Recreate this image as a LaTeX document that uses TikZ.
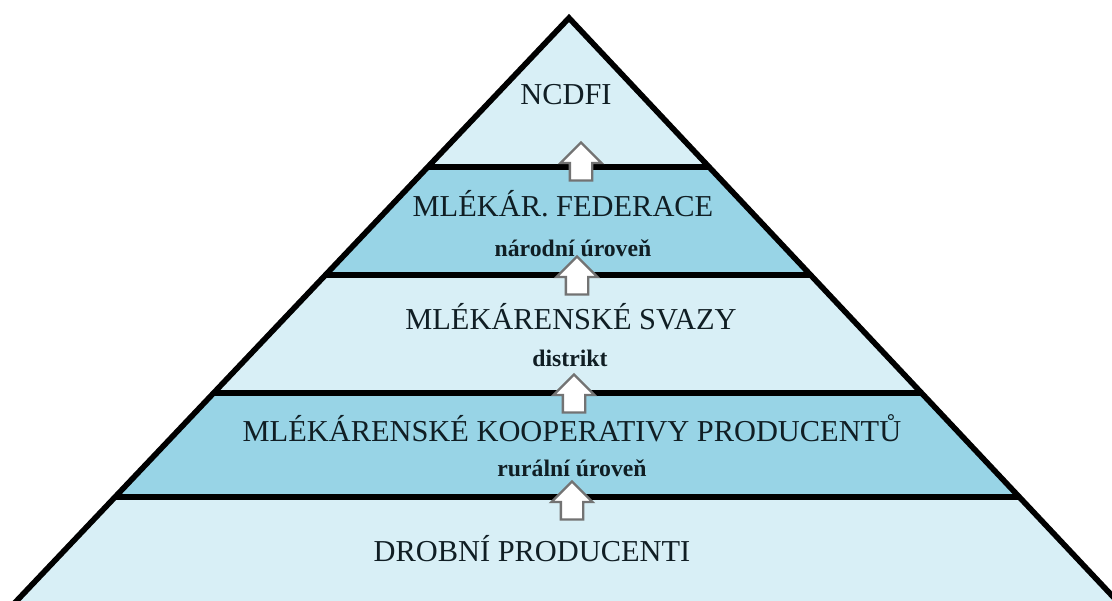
\documentclass[tikz,border=0pt]{standalone}
\usepackage{fontspec}
\setmainfont{Liberation Serif}
\usetikzlibrary{shapes.arrows}
\definecolor{palebg}{RGB}{216,239,246}
\definecolor{bandbg}{RGB}{152,212,230}
\definecolor{inkcol}{RGB}{16,30,36}
\tikzset{
	edge/.style={line width=3.2pt, black},
	level/.style={text=inkcol, font=\fontsize{17.3}{20}\selectfont, inner sep=0pt},
	sublevel/.style={text=inkcol, font=\bfseries\fontsize{13.5}{16}\selectfont, inner sep=0pt},
	uparrow/.style={single arrow, shape border rotate=90, draw=black!55, fill=white,
		line width=1.3pt, inner sep=0.2cm, minimum height=0.76cm, minimum width=0.8cm,
		single arrow head extend=0.19cm, single arrow tip angle=90}
}
\begin{document}
\begin{tikzpicture}[x=0.02cm, y=-0.02cm]
	\useasboundingbox (0, 0) rectangle (1112, 601);
	\clip (0, 0) rectangle (1112, 601);
	% bands
	\fill[palebg] (569, 18) -- (8, 610) -- (1125.5, 610) -- cycle;
	\fill[bandbg] (427.7, 167) -- (709.1, 167) -- (810.6, 275) -- (325.4, 275) -- cycle;
	\fill[bandbg] (213.5, 393) -- (921.5, 393) -- (1019.3, 497) -- (114.9, 497) -- cycle;
	% outline
	\draw[edge] (8, 610) -- (569, 18) -- (1125.5, 610);
	\draw[edge] (427.7, 167) -- (709.1, 167);
	\draw[edge] (325.4, 275) -- (810.6, 275);
	\draw[edge] (213.5, 393) -- (921.5, 393);
	\draw[edge] (114.9, 497) -- (1019.3, 497);
	% arrows between levels
	\node[uparrow] (up1) at (581, 167) {};
	\node[uparrow] (up2) at (577, 281) {};
	\node[uparrow] (up3) at (574, 399) {};
	\node[uparrow] (up4) at (572, 506) {};
	% texts
	\node[level] (ncdfi) at (566, 95) {NCDFI};
	\node[level] (federace) at (563, 204) {MLÉKÁR. FEDERACE};
	\node[sublevel] (narodni) at (573, 248) {národní úroveň};
	\node[level] (svazy) at (571, 317) {MLÉKÁRENSKÉ SVAZY};
	\node[sublevel] (distrikt) at (570, 358) {distrikt};
	\node[level] (kooperativy) at (572, 428) {MLÉKÁRENSKÉ KOOPERATIVY PRODUCENTŮ};
	\node[sublevel] (ruralni) at (572, 468) {rurální úroveň};
	\node[level] (drobni) at (532, 549) {DROBNÍ PRODUCENTI};
\end{tikzpicture}
\end{document}
